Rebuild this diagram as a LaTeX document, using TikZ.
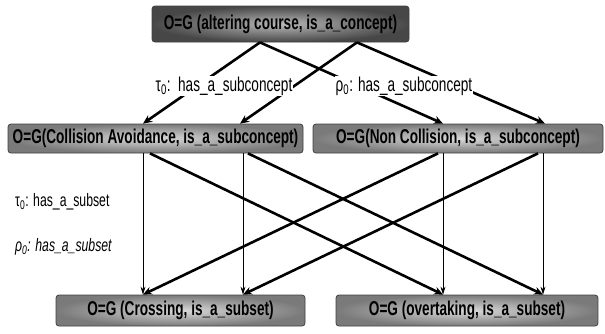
\documentclass[tikz,border=0pt]{standalone}
\usepackage{fontspec}
\setmainfont{Liberation Sans}[FakeStretch=0.68]
\usetikzlibrary{arrows.meta}
\begin{document}
\begin{tikzpicture}[x=1pt,y=-1pt,
  box/.style={draw=black!75, line width=0.8pt, rounded corners=3pt,
    inner color=black!15, outer color=black!52, text=black,
    font=\fontsize{20}{22}\selectfont\bfseries, inner sep=0pt},
  topbox/.style={box, inner color=black!28, outer color=black!72},
  bigarrow/.style={line width=2.6pt, -{Stealth[length=9pt,width=8pt]}},
  thinarrow/.style={line width=0.9pt, -{Stealth[length=8pt,width=5pt]}},
  lab/.style={fill=white, inner sep=1pt, font=\fontsize{20}{22}\selectfont},
  sidelab/.style={inner sep=0pt, anchor=west, font=\fontsize{18}{20}\selectfont}
]
\useasboundingbox (0,0) rectangle (605,333);

\node[topbox, minimum width=257pt, minimum height=36pt] (top) at (280.5,24) {O=G (altering course, is\_a\_concept)};
\node[box, minimum width=295pt, minimum height=29pt] (ca) at (155.5,138.5) {O=G(Collision Avoidance, is\_a\_subconcept)};
\node[box, minimum width=290pt, minimum height=29pt] (nc) at (458,138.5) {O=G(Non Collision, is\_a\_subconcept)};
\node[box, minimum width=249pt, minimum height=31pt] (cr) at (180.5,310.5) {O=G (Crossing, is\_a\_subset)};
\node[box, minimum width=262pt, minimum height=31pt] (ov) at (467,310.5) {O=G (overtaking, is\_a\_subset)};

% top to middle
\draw[bigarrow] ([xshift=-20.5pt]top.south) -- ([xshift=-12.5pt]ca.north);
\draw[bigarrow] ([xshift=76.5pt]top.south) -- ([xshift=84.5pt]ca.north);
\draw[bigarrow] ([xshift=-20.5pt]top.south) -- ([xshift=-15pt]nc.north);
\draw[bigarrow] ([xshift=76.5pt]top.south) -- ([xshift=87pt]nc.north);

\node[lab] (l1) at (224,86) {τ\textsubscript{0}:\ \ has\_a\_subconcept};
\node[lab] (l2) at (404,86) {ρ\textsubscript{0}: has\_a\_subconcept};

% middle to bottom
\draw[thinarrow] ([xshift=-12.5pt]ca.south) -- ([xshift=-37.5pt]cr.north);
\draw[thinarrow] ([xshift=87.5pt]ca.south) -- ([xshift=62.5pt]cr.north);
\draw[thinarrow] ([xshift=-15pt]nc.south) -- ([xshift=-24pt]ov.north);
\draw[thinarrow] ([xshift=85pt]nc.south) -- ([xshift=76pt]ov.north);
\draw[bigarrow] ([xshift=-5.5pt]ca.south) -- ([xshift=-24pt]ov.north);
\draw[bigarrow] ([xshift=92.5pt]ca.south) -- ([xshift=76pt]ov.north);
\draw[bigarrow] ([xshift=-20pt]nc.south) -- ([xshift=-37.5pt]cr.north);
\draw[bigarrow] ([xshift=80pt]nc.south) -- ([xshift=62.5pt]cr.north);

\node[sidelab] (l3) at (15,202) {τ\textsubscript{0}: has\_a\_subset};
\node[sidelab] (l4) at (15,247) {\itshape ρ\textsubscript{0}: has\_a\_subset};
\end{tikzpicture}
\end{document}
